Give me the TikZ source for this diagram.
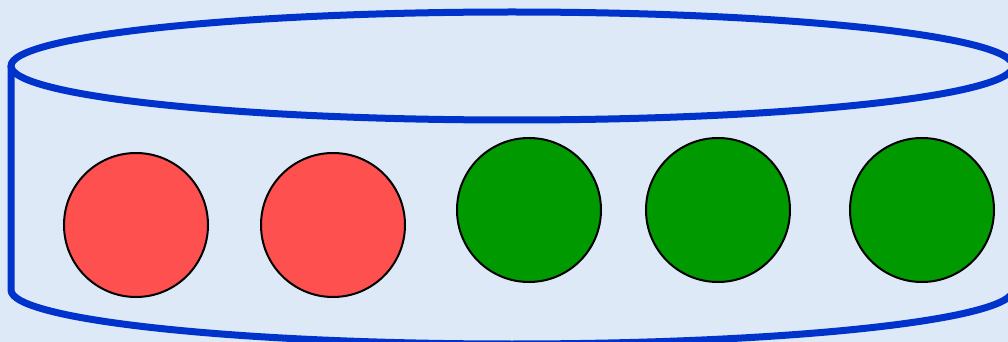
\documentclass[tikz,border=0pt]{standalone}
\usepackage{xcolor}
\usepackage{tikz}
\definecolor{paleSky}{HTML}{DDE9F6}
\definecolor{tubeBlue}{HTML}{0033CC}
\definecolor{ballRed}{HTML}{FF5050}
\definecolor{ballGreen}{HTML}{009900}
\tikzset{
    ball/.style={circle, draw=black, line width=1pt, minimum size=72pt, inner sep=0pt},
    tube/.style={tubeBlue, line width=3.5pt}
}
\begin{document}
\begin{tikzpicture}[x=0.5pt, y=-0.5pt]
    \clip (0, 0) rectangle (1008, 342);
    \fill[paleSky] (0, 0) rectangle (1008, 342);

    % cylinder
    \draw[tube] (512, 66) ellipse [x radius=501, y radius=54];
    \draw[tube] (11, 66) -- (11, 290)
        arc[start angle=180, end angle=0, x radius=501, y radius=54]
        -- (1013, 66);

    % balls
    \node[ball, fill=ballRed] (red1) at (136, 225) {};
    \node[ball, fill=ballRed] (red2) at (333, 225) {};
    \foreach \x/\name in {529/green1, 718/green2, 922/green3}
        \node[ball, fill=ballGreen] (\name) at (\x, 210) {};
\end{tikzpicture}
\end{document}
